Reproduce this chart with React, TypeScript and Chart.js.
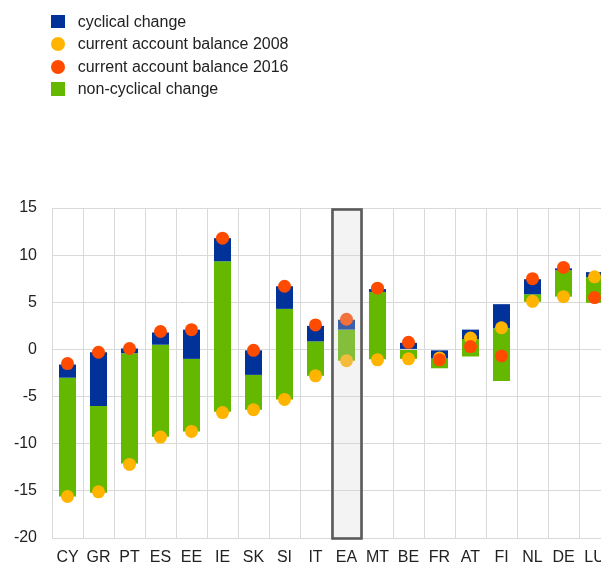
import React, { useEffect, useRef } from 'react';
import { Chart, registerables } from 'chart.js';

Chart.register(...registerables);

const countries = ['CY', 'GR', 'PT', 'ES', 'EE', 'IE', 'SK', 'SI', 'IT', 'EA', 'MT', 'BE', 'FR', 'AT', 'FI', 'NL', 'DE', 'LU'];
const highlighted = 'EA';

// current account balances (% of GDP)
const ca2008 = [-15.6, -15.1, -12.2, -9.3, -8.7, -6.7, -6.4, -5.3, -2.8, -1.2, -1.1, -1.0, -0.9, 1.2, 2.3, 5.1, 5.6, 7.7];
const ca2016 = [-1.5, -0.3, 0.1, 1.9, 2.1, 11.8, -0.1, 6.7, 2.6, 3.2, 6.5, 0.75, -1.1, 0.3, -0.7, 7.5, 8.7, 5.5];

// floating bar ranges as drawn
const nonCycLow = [-15.6, -15.2, -12.1, -9.25, -8.7, -6.6, -6.4, -5.3, -2.8, -1.2, -1.05, -1.0, -2.0, -0.75, -3.35, 5.05, 5.6, 4.95];
const nonCycHigh = [-3.0, -6.0, -0.4, 0.5, -1.0, 9.35, -2.7, 4.3, 0.85, 2.1, 6.1, 0.0, -0.95, 1.1, 2.25, 5.85, 8.4, 7.65];
const cycLow = [-3.0, -6.0, -0.4, 0.5, -1.0, 9.35, -2.7, 4.3, 0.85, 2.1, 6.1, 0.0, -0.95, 1.1, 2.25, 5.85, 8.4, 7.65];
const cycHigh = [-1.6, -0.3, 0.1, 1.8, 2.1, 11.8, -0.1, 6.7, 2.5, 3.15, 6.4, 0.7, -0.1, 2.1, 4.8, 7.45, 8.6, 8.2];

const yTicks = [-20, -15, -10, -5, 0, 5, 10, 15];

const BLUE = '#003299';
const YELLOW = '#ffb400';
const RED = '#ff4b00';
const GREEN = '#65b800';
const FONT = '"Liberation Sans", Arial, sans-serif';

const legendItems = [
  { label: 'cyclical change', color: BLUE, shape: 'square' },
  { label: 'current account balance 2008', color: YELLOW, shape: 'circle' },
  { label: 'current account balance 2016', color: RED, shape: 'circle' },
  { label: 'non-cyclical change', color: GREEN, shape: 'square' },
];

const highlightPlugin = {
  id: 'highlightBox',
  afterDatasetsDraw(chart: any) {
    const x = chart.scales.x;
    const idx = countries.indexOf(highlighted);
    if (idx < 0) return;
    const cx = x.getPixelForValue(idx);
    const half = (x.getPixelForValue(1) - x.getPixelForValue(0)) / 2;
    const { top, bottom } = chart.chartArea;
    const ctx = chart.ctx;
    ctx.save();
    ctx.fillStyle = 'rgba(211,211,211,0.28)';
    ctx.fillRect(cx - half, top, half * 2, bottom - top);
    ctx.strokeStyle = '#5a5a5a';
    ctx.lineWidth = 2.6;
    ctx.strokeRect(cx - half + 1.5, top + 1.5, half * 2 - 2, bottom - top - 1);
    ctx.restore();
  },
};

export default function App() {
  const ref = useRef<HTMLCanvasElement>(null);

  useEffect(() => {
    const chart = new Chart(ref.current!, {
      type: 'bar',
      data: {
        labels: countries,
        datasets: [
          {
            type: 'line',
            label: 'current account balance 2016',
            data: ca2016,
            showLine: false,
            pointRadius: 6.5,
            pointBorderWidth: 0,
            pointBackgroundColor: RED,
            pointBorderColor: RED,
            order: 0,
          } as any,
          {
            type: 'line',
            label: 'current account balance 2008',
            data: ca2008,
            showLine: false,
            pointRadius: 6.5,
            pointBorderWidth: 0,
            pointBackgroundColor: YELLOW,
            pointBorderColor: YELLOW,
            order: 1,
          } as any,
          {
            type: 'bar',
            label: 'cyclical change',
            data: countries.map((_, i) => [cycLow[i], cycHigh[i]]),
            backgroundColor: BLUE,
            borderWidth: 0,
            grouped: false,
            barPercentage: 0.55,
            categoryPercentage: 1,
            order: 2,
          } as any,
          {
            type: 'bar',
            label: 'non-cyclical change',
            data: countries.map((_, i) => [nonCycLow[i], nonCycHigh[i]]),
            backgroundColor: GREEN,
            borderWidth: 0,
            grouped: false,
            barPercentage: 0.55,
            categoryPercentage: 1,
            order: 3,
          } as any,
        ],
      },
      options: {
        responsive: false,
        animation: false,
        devicePixelRatio: 1,
        layout: { autoPadding: false, padding: { top: 208, left: 0, right: 2, bottom: 0 } },
        plugins: {
          legend: { display: false },
          tooltip: { enabled: false },
        },
        scales: {
          x: {
            offset: true,
            grid: {
              color: '#d9d9d9',
              lineWidth: 1,
              drawTicks: true,
              tickLength: 10,
              tickColor: 'rgba(0,0,0,0)',
              offset: true,
            },
            border: { color: '#d9d9d9' },
            ticks: { color: '#222', font: { family: FONT, size: 16 }, padding: 0, maxRotation: 0, autoSkip: false },
            afterFit: (s: any) => {
              s.height = 26;
              s.paddingLeft = 0;
              s.paddingRight = 0;
            },
          },
          y: {
            min: -20,
            max: 15,
            afterBuildTicks: (s: any) => { s.ticks = yTicks.map((v) => ({ value: v })); },
            grid: { color: '#d9d9d9', lineWidth: 1, drawTicks: false },
            border: { color: '#d9d9d9' },
            ticks: { color: '#222', font: { family: FONT, size: 16 }, padding: 15 },
            afterFit: (s: any) => { s.width = 52; },
          },
        },
      },
      plugins: [highlightPlugin],
    } as any);
    return () => chart.destroy();
  }, []);

  return (
    <div style={{ position: 'absolute', left: 0, top: 0, width: 601, height: 564, overflow: 'hidden', background: '#fff' }}>
      <canvas ref={ref} width={612} height={564} style={{ position: 'absolute', left: 0, top: 0, width: 612, height: 564 }} />
      {legendItems.map((it, i) => (
        <div
          key={it.label}
          style={{
            position: 'absolute',
            left: 51,
            top: 21.7 + i * 22.5 - 11,
            height: 22,
            display: 'flex',
            alignItems: 'center',
            fontFamily: FONT,
            fontSize: 16,
            color: '#222',
            whiteSpace: 'nowrap',
          }}
        >
          <span
            style={{
              display: 'inline-block',
              width: 14,
              height: it.shape === 'square' ? 13.5 : 14,
              borderRadius: it.shape === 'circle' ? '50%' : 0,
              background: it.color,
              marginRight: 12.7,
            }}
          />
          <span>{it.label}</span>
        </div>
      ))}
    </div>
  );
}
